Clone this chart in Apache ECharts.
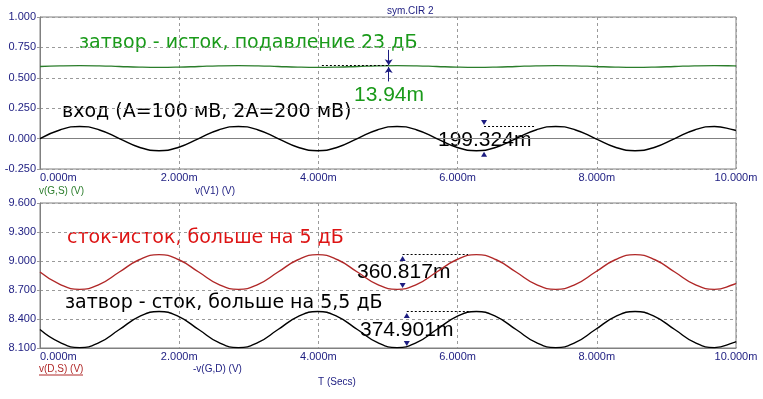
<!DOCTYPE html>
<html>
<head>
<meta charset="utf-8">
<script src="https://cdn.jsdelivr.net/npm/echarts@6/dist/echarts.min.js"></script>
<style>
  html, body { margin: 0; padding: 0; background: #fff; }
  #chart { width: 763px; height: 399px; }
</style>
</head>
<body>
<div id="chart"></div>
<script>
// время, мс
var timeMs = [0, 0.285, 0.57, 0.855, 1.14, 1.425, 1.71, 1.995, 2.28, 2.565, 2.85, 3.135,
  3.42, 3.705, 3.99, 4.275, 4.56, 4.845, 5.13, 5.415, 5.7, 5.985, 6.27, 6.555, 6.84,
  7.125, 7.41, 7.695, 7.98, 8.265, 8.55, 8.835, 9.12, 9.405, 9.69, 9.975, 10.0];

// верхний график
var vGS = [0.593, 0.598, 0.600, 0.598, 0.593, 0.588, 0.586, 0.588,
  0.593, 0.598, 0.600, 0.598, 0.593, 0.588, 0.586, 0.588,
  0.593, 0.598, 0.600, 0.598, 0.593, 0.588, 0.586, 0.588,
  0.593, 0.598, 0.600, 0.598, 0.593, 0.588, 0.586, 0.588,
  0.593, 0.598, 0.600, 0.598, 0.597];
var vV1 = [0, 0.071, 0.100, 0.071, 0, -0.071, -0.100, -0.071,
  0, 0.071, 0.100, 0.071, 0, -0.071, -0.100, -0.071,
  0, 0.071, 0.100, 0.071, 0, -0.071, -0.100, -0.071,
  0, 0.071, 0.100, 0.071, 0, -0.071, -0.100, -0.071,
  0, 0.071, 0.100, 0.071, 0.066];

// нижний график
var vDS = [8.886, 8.759, 8.706, 8.759, 8.886, 9.013, 9.066, 9.013,
  8.886, 8.759, 8.706, 8.759, 8.886, 9.013, 9.066, 9.013,
  8.886, 8.759, 8.706, 8.759, 8.886, 9.013, 9.066, 9.013,
  8.886, 8.759, 8.706, 8.759, 8.886, 9.013, 9.066, 9.013,
  8.886, 8.759, 8.706, 8.759, 8.768];
var vGD = [8.291, 8.158, 8.104, 8.158, 8.291, 8.424, 8.478, 8.424,
  8.291, 8.158, 8.104, 8.158, 8.291, 8.424, 8.478, 8.424,
  8.291, 8.158, 8.104, 8.158, 8.291, 8.424, 8.478, 8.424,
  8.291, 8.158, 8.104, 8.158, 8.291, 8.424, 8.478, 8.424,
  8.291, 8.158, 8.104, 8.158, 8.168];

// оси
var xRange = [0, 10, 2];
var topRange = [-0.25, 1.0, 0.25];
var botRange = [8.1, 9.6, 0.3];

// курсоры: [t, верх, низ, t конца пунктира]
var cursorGS = [5.01, 0.604, 0.589, 4.05];
var cursorV1 = [6.38, 0.100, -0.096, 7.10];
var cursorDS = [5.21, 9.066, 8.706, 6.15];
var cursorGD = [5.27, 8.478, 8.104, 6.18];

var navy = '#1c1c80';
var green = '#2b7d2b';
var greenText = '#1a9a1a';
var redLine = '#b02828';
var redText = '#dd1414';

function pairs(xs, ys) {
  return xs.map(function (x, i) { return [x, ys[i]]; });
}

function xAxisCfg(idx) {
  return {
    type: 'value', gridIndex: idx, min: xRange[0], max: xRange[1], interval: xRange[2],
    axisLine: { lineStyle: { color: '#808080' } },
    axisTick: { show: false },
    splitLine: { show: true, lineStyle: { color: '#9a9a9a', type: [3, 3] } },
    axisLabel: {
      color: navy, fontSize: 11, fontFamily: 'Liberation Sans, Arial', margin: 3,
      alignMinLabel: 'left',
      formatter: function (v) { return v.toFixed(3) + 'm'; }
    }
  };
}

function yAxisCfg(idx, r) {
  return {
    type: 'value', gridIndex: idx, min: r[0], max: r[1], interval: r[2],
    axisLine: { show: true, lineStyle: { color: '#808080' } },
    axisTick: { show: true, length: 3, lineStyle: { color: '#9a9a9a' } },
    splitLine: { show: true, lineStyle: { color: '#9a9a9a', type: [3, 3] } },
    axisLabel: {
      color: navy, fontSize: 11, fontFamily: 'Liberation Sans, Arial', margin: 4,
      formatter: function (v) { return v.toFixed(3); }
    }
  };
}

function cursorMarks(c, topDown) {
  // пунктир у верхнего уровня и треугольники у экстремумов
  return {
    markLine: {
      silent: true, symbol: ['none', 'none'], animation: false,
      label: { show: false },
      lineStyle: { color: '#000', type: [2, 2], width: 1 },
      data: [[{ coord: [c[0], c[1]] }, { coord: [c[3], c[1]] }]]
    },
    markPoint: {
      silent: true, animation: false, label: { show: false },
      itemStyle: { color: navy },
      data: [
        { coord: [c[0], c[1]], symbol: 'triangle', symbolSize: [6, 5],
          symbolRotate: topDown ? 180 : 0, symbolOffset: [0, topDown ? -4 : 4] },
        { coord: [c[0], c[2]], symbol: 'triangle', symbolSize: [6, 5],
          symbolRotate: topDown ? 0 : 180, symbolOffset: [0, topDown ? 4 : -4] }
      ]
    }
  };
}

var chart = echarts.init(document.getElementById('chart'));

var v1Marks = cursorMarks(cursorV1, true);
var dsMarks = cursorMarks(cursorDS, false);
var gdMarks = cursorMarks(cursorGD, false);

var bigFont = 'DejaVu Sans';
var numFont = 'Liberation Sans';

function txt(x, y, s, color, size, family) {
  return {
    type: 'text', x: x, y: y, silent: true,
    style: { text: s, fill: color, font: size + 'px "' + family + '"', textVerticalAlign: 'middle' }
  };
}

var option = {
  backgroundColor: '#fff',
  animation: false,
  grid: [
    { left: 40, top: 17, width: 696, height: 152, show: true, borderColor: '#808080', borderWidth: 1 },
    { left: 40, top: 203, width: 696, height: 145, show: true, borderColor: '#808080', borderWidth: 1 }
  ],
  xAxis: [xAxisCfg(0), xAxisCfg(1)],
  yAxis: [yAxisCfg(0, topRange), yAxisCfg(1, botRange)],
  series: [
    {
      name: 'v(G,S)', type: 'line', xAxisIndex: 0, yAxisIndex: 0, data: pairs(timeMs, vGS),
      showSymbol: false, smooth: true, lineStyle: { color: green, width: 1.3 },
      markLine: {
        silent: true, animation: false, label: { show: false },
        data: [
          [{ coord: [cursorGS[3], 0.600], symbol: 'none', lineStyle: { color: '#000', type: [2, 2], width: 1 } },
           { coord: [cursorGS[0], 0.600], symbol: 'none' }],
          [{ coord: [cursorGS[0], 0.73], symbol: 'none', lineStyle: { color: navy, type: 'solid', width: 1 } },
           { coord: [cursorGS[0], cursorGS[1]], symbol: 'arrow', symbolSize: [6, 6] }],
          [{ coord: [cursorGS[0], 0.47], symbol: 'none', lineStyle: { color: navy, type: 'solid', width: 1 } },
           { coord: [cursorGS[0], cursorGS[2]], symbol: 'arrow', symbolSize: [6, 6] }]
        ]
      }
    },
    {
      name: 'v(V1)', type: 'line', xAxisIndex: 0, yAxisIndex: 0, data: pairs(timeMs, vV1),
      showSymbol: false, smooth: true, lineStyle: { color: '#000', width: 1.4 },
      markLine: v1Marks.markLine, markPoint: v1Marks.markPoint
    },
    {
      name: 'v(D,S)', type: 'line', xAxisIndex: 1, yAxisIndex: 1, data: pairs(timeMs, vDS),
      showSymbol: false, smooth: true, lineStyle: { color: redLine, width: 1.4 },
      markLine: dsMarks.markLine, markPoint: dsMarks.markPoint
    },
    {
      name: '-v(G,D)', type: 'line', xAxisIndex: 1, yAxisIndex: 1, data: pairs(timeMs, vGD),
      showSymbol: false, smooth: true, lineStyle: { color: '#000', width: 1.4 },
      markLine: gdMarks.markLine, markPoint: gdMarks.markPoint
    }
  ],
  graphic: [
    txt(387, 11, 'sym.CIR 2', navy, 10, 'Liberation Sans'),
    txt(79, 43, 'затвор - исток, подавление 23 дБ', greenText, 19, bigFont),
    txt(354, 95, '13.94m', greenText, 21, numFont),
    txt(62, 112, 'вход (A=100 мВ, 2A=200 мВ)', '#000', 19, bigFont),
    txt(438, 140, '199.324m', '#000', 21, numFont),
    txt(39, 191, 'v(G,S) (V)', green, 10, 'Liberation Sans'),
    txt(195, 191, 'v(V1) (V)', navy, 10, 'Liberation Sans'),
    txt(67, 238, 'сток-исток, больше на 5 дБ', redText, 19, bigFont),
    txt(357, 272, '360.817m', '#000', 21, numFont),
    txt(65, 303, 'затвор - сток, больше на 5,5 дБ', '#000', 19, bigFont),
    txt(360, 330, '374.901m', '#000', 21, numFont),
    txt(39, 369, 'v(D,S) (V)', redLine, 10, 'Liberation Sans'),
    { type: 'line', silent: true, shape: { x1: 39, y1: 375, x2: 83, y2: 375 }, style: { stroke: redLine, lineWidth: 1 } },
    txt(193, 369, '-v(G,D) (V)', navy, 10, 'Liberation Sans'),
    txt(318, 382, 'T (Secs)', navy, 10, 'Liberation Sans')
  ]
};

chart.setOption(option);
</script>
</body>
</html>
